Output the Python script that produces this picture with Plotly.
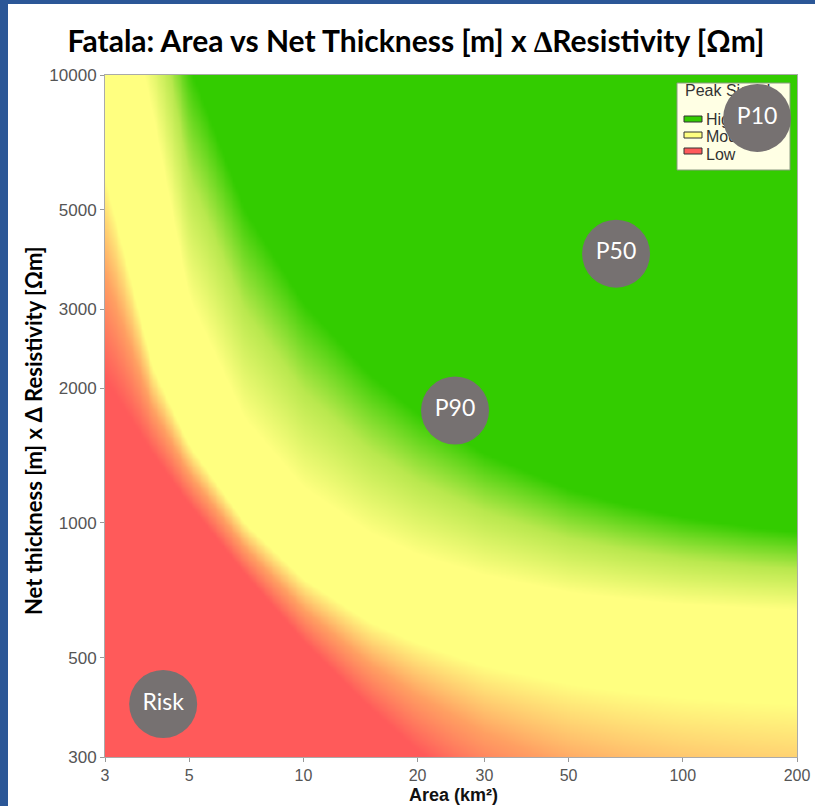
import numpy as np
import plotly.graph_objects as go

# ---- data ----
AREA_KM2 = [3, 4, 5, 7, 10, 15, 20, 30, 50, 70, 100, 150, 200]
# thickness x resistivity [Ohm m] at which each colour zone starts, per area column
GREEN_EDGE = [60000, 30000, 10500, 5000, 3100, 2140, 1760, 1430, 1190, 1100, 1030, 980, 955]
YELLOW_TOP = [25000, 8200, 3150, 1700, 1200, 950, 850, 765, 700, 677, 659, 646, 639]
YELLOW_BOTTOM = [5900, 2230, 1490, 1000, 750, 600, 540, 480, 438, 421, 408, 399, 394]
RED_EDGE = [2100, 1430, 1100, 770, 545, 386, 311, 238, 182, 160, 140, 127, 120]

X_TICKS = [3, 5, 10, 20, 30, 50, 100, 200]
Y_TICKS = [300, 500, 1000, 2000, 3000, 5000, 10000]

LEGEND_TITLE = "Peak Signal"
LEGEND_LABELS = ["High", "Moderate", "Low"]
LEGEND_COLORS = ["#33cc00", "#ffff80", "#ff5a5a"]

CIRCLE_LABELS = ["P10", "P50", "P90", "Risk"]
CIRCLE_AREA = [157, 66.7, 25.1, 4.27]
CIRCLE_NT = [8020, 3990, 1782, 394]

X_RANGE = [3, 200]
Y_RANGE = [300, 10000]

# ---- colour field built from the zone edges ----
nx, ny = 260, 260
xg = np.logspace(np.log10(X_RANGE[0]), np.log10(X_RANGE[1]), nx)
yg = np.logspace(np.log10(Y_RANGE[0]), np.log10(Y_RANGE[1]), ny)
la = np.log10(AREA_KM2)
edges = [np.log10(e) for e in (RED_EDGE, YELLOW_BOTTOM, YELLOW_TOP, GREEN_EDGE)]
z = np.zeros((ny, nx))
for i, xv in enumerate(xg):
    lx = np.log10(xv)
    b = [np.interp(lx, la, e) for e in edges]
    z[:, i] = np.interp(np.log10(yg), b, [0, 1, 2, 3])

colorscale = [
    [0.0, "rgb(255,90,90)"],
    [0.17, "rgb(255,160,98)"],
    [0.3333, "rgb(255,255,128)"],
    [0.6667, "rgb(255,255,128)"],
    [0.84, "rgb(185,232,78)"],
    [1.0, "rgb(51,204,0)"],
]

fig = go.Figure()
fig.add_trace(go.Heatmap(x=xg, y=yg, z=z, zmin=0, zmax=3, colorscale=colorscale,
                         zsmooth="best", showscale=False, hoverinfo="skip"))

# ---- geometry helpers (plot area in pixels) ----
W, H = 815, 806
L, R, T, B = 105, 797, 75, 757
PW, PH = R - L, B - T
lx0, lx1 = np.log10(X_RANGE[0]), np.log10(X_RANGE[1])
ly0, ly1 = np.log10(Y_RANGE[0]), np.log10(Y_RANGE[1])

def px_x(p):
    return 10 ** (lx0 + (p - L) / PW * (lx1 - lx0))

def px_y(p):
    return 10 ** (ly1 - (p - T) / PH * (ly1 - ly0))

def paper_x(p):
    return (p - L) / PW

def paper_y(p):
    return (B - p) / PH

# legend box (drawn under the P10 circle)
bx0, bx1, by0, by1 = 677, 790, 83, 170
fig.add_trace(go.Scatter(
    x=[px_x(bx0), px_x(bx1), px_x(bx1), px_x(bx0), px_x(bx0)],
    y=[px_y(by0), px_y(by0), px_y(by1), px_y(by1), px_y(by0)],
    mode="lines", fill="toself", fillcolor="#ffffe4",
    line=dict(color="#8a9a80", width=1), hoverinfo="skip", showlegend=False))
sw_y = [119, 135, 151]
tx_y = [121, 138, 156]
for yy, col in zip(sw_y, LEGEND_COLORS):
    sx0, sx1, sy0, sy1 = 684, 702, yy - 3, yy + 3
    fig.add_trace(go.Scatter(
        x=[px_x(sx0), px_x(sx1), px_x(sx1), px_x(sx0), px_x(sx0)],
        y=[px_y(sy0), px_y(sy0), px_y(sy1), px_y(sy1), px_y(sy0)],
        mode="lines", fill="toself", fillcolor=col,
        line=dict(color="#333333", width=1), hoverinfo="skip", showlegend=False))
fig.add_trace(go.Scatter(
    x=[px_x(685)] + [px_x(706)] * 3,
    y=[px_y(92)] + [px_y(v) for v in tx_y],
    mode="text", text=[LEGEND_TITLE] + LEGEND_LABELS,
    textposition="middle right",
    textfont=dict(family="Liberation Sans, Arial", size=16, color="#333333"),
    hoverinfo="skip", showlegend=False))

# circles
fig.add_trace(go.Scatter(
    x=CIRCLE_AREA, y=CIRCLE_NT, mode="markers+text", text=CIRCLE_LABELS,
    textposition="middle center",
    marker=dict(size=68, color="#767171", line=dict(width=0)),
    textfont=dict(family="Lato", size=23, color="white"),
    hoverinfo="skip", showlegend=False))

axis_font = dict(family="Liberation Sans, Arial", size=17, color="#555555")
xaxis_font = dict(family="Liberation Sans, Arial", size=16, color="#555555")
fig.update_layout(
    width=W, height=H,
    margin=dict(l=L, r=W - R, t=T, b=H - B, autoexpand=False),
    paper_bgcolor="white", plot_bgcolor="white",
    showlegend=False,
    title=dict(text="<b>Fatala: Area vs Net Thickness [m] x ∆Resistivity [Ωm]</b>",
               x=416 / W, xanchor="center", y=1 - 41 / H, yanchor="middle",
               font=dict(family="Lato", size=30, color="black")),
    xaxis=dict(type="log", range=[lx0, lx1], tickvals=X_TICKS, automargin=False,
               ticktext=[str(v) for v in X_TICKS], ticks="outside", ticklen=4,
               tickcolor="#999999", showgrid=False, zeroline=False,
               showline=True, linecolor="#aaaaaa", mirror=True, tickfont=xaxis_font),
    yaxis=dict(type="log", range=[ly0, ly1], tickvals=Y_TICKS, automargin=False,
               ticktext=[str(v) for v in Y_TICKS], ticks="outside", ticklen=4,
               tickcolor="#999999", showgrid=False, zeroline=False,
               showline=True, linecolor="#aaaaaa", mirror=True, tickfont=axis_font),
    annotations=[
        dict(text="<b>Area (km²)</b>", xref="paper", yref="paper",
             x=paper_x(453), y=paper_y(795), xanchor="center", yanchor="middle",
             showarrow=False,
             font=dict(family="Liberation Sans, Arial", size=18, color="#111111")),
        dict(text="<b>Net thickness [m] x Δ Resistivity [Ωm]</b>", xref="paper", yref="paper",
             x=paper_x(33), y=paper_y(431), xanchor="center", yanchor="middle",
             textangle=-90, showarrow=False,
             font=dict(family="Lato", size=22, color="black")),
    ],
    shapes=[
        dict(type="rect", xref="paper", yref="paper",
             x0=paper_x(0), x1=paper_x(8), y0=paper_y(H), y1=paper_y(0),
             fillcolor="#2b5797", line=dict(width=0), layer="above"),
        dict(type="rect", xref="paper", yref="paper",
             x0=paper_x(0), x1=paper_x(W), y0=paper_y(4), y1=paper_y(0),
             fillcolor="#2b5797", line=dict(width=0), layer="above"),
    ],
)

fig.write_html("out.html",
               config={"displayModeBar": False},
               post_script="document.body.style.margin='0px';"
                           "document.body.style.overflow='hidden';")
